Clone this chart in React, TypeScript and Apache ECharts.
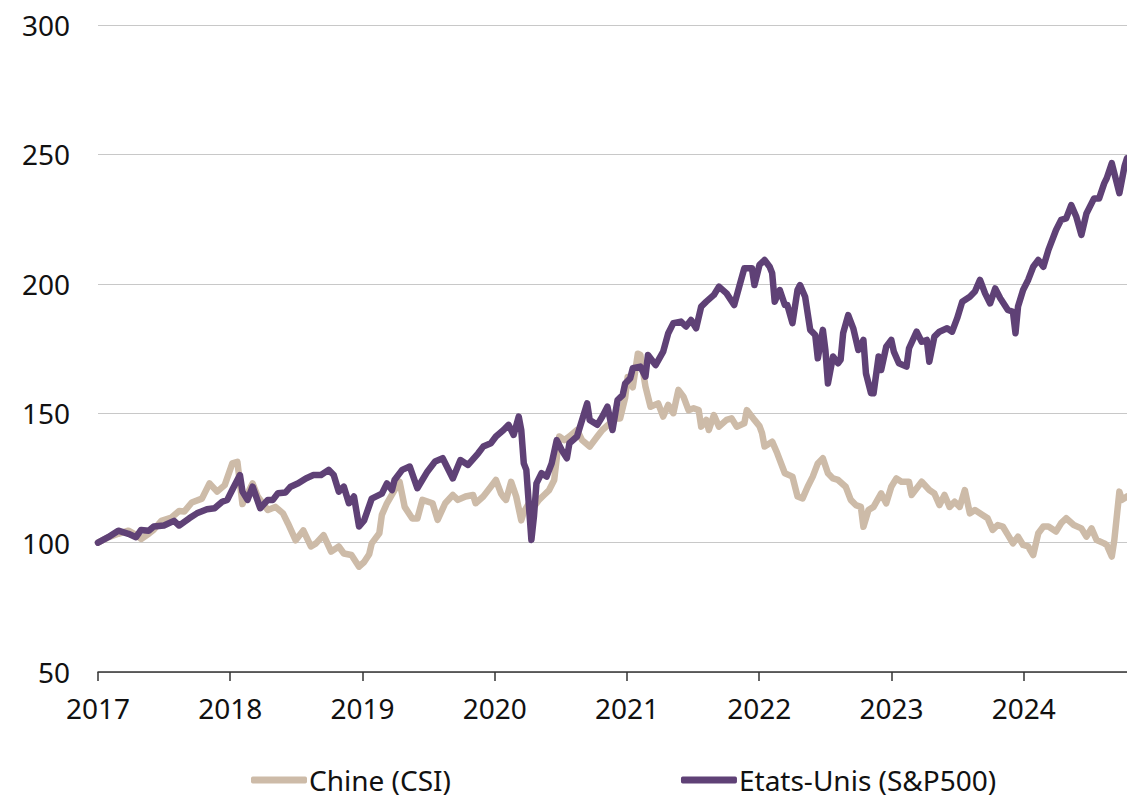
import React, { useEffect, useRef } from "react";
import * as echarts from "echarts";

// Weeks since the first week of January 2017
const usWeeks = [0,4,8,12,15,17,20,22,26,30,32,36,39,43,46,49,51,53,56,57,59,61,64,67,69,71,74,76,79,82,85,88,91,93,95,97,99,101,103,105,108,112,114,116,117,120,123,126,130,133,136,140,143,146,150,152,155,157,160,162,164,166,167,168,169,171,172,173,175,177,179,181,183,185,186,189,191,193,194,197,199,201,203,205,207,208,210,211,214,216,217,220,223,225,227,230,232,234,236,238,240,243,245,248,251,253,255,258,259,261,263,265,266,267,269,271,272,274,276,277,279,281,283,284,286,287,288,290,292,293,294,296,298,300,302,303,305,306,308,309,311,313,314,316,319,320,323,325,327,328,330,332,335,337,339,341,344,346,348,350,352,354,356,359,361,362,363,365,367,369,371,373,375,378,380,382,384,386,388,390,393,395,397,398,400,401,403,405,406];
const usValues = [100,102.1,104.6,103.4,102.1,104.9,104.6,106.2,106.6,108.4,106.6,109.4,111.3,112.9,113.3,115.8,116.5,120.4,126.1,119.7,116.5,121.6,113.3,116.5,116.5,119.1,119.4,121.6,122.9,124.8,126.1,126.1,128.1,126.1,119.7,121.6,115.2,117.8,106.2,108.6,117,118.9,122.9,120.3,124.2,128.1,129.4,121,127.5,131.3,132.6,124.8,131.9,130,134.5,137.1,138.4,141,143.5,145.5,141.6,148.7,143.5,130.6,128.1,101,110,122.9,126.8,125.5,130.6,139.6,135.7,132.6,138.4,141,147.4,153.8,147.4,145.5,148.7,152.5,143.5,155.1,157,161.5,163.5,167.4,168,164.1,172.5,168.6,173.8,180.9,184.8,185.4,183.5,186,182.8,191.2,193.1,195.7,198.9,196.3,191.8,198.9,206,206,199.5,207.3,209.2,206.6,204.1,193.1,197.6,191.8,191.8,184.8,197.6,199.5,195,182.2,180.2,171.2,182.2,174.4,161.5,171.9,169.3,170.6,180.9,187.9,182.8,174.4,178.3,165.4,157.7,157.7,171.9,166.7,175.7,178.3,173.8,169.3,168,175.1,181.5,177.6,178.3,169.9,179.6,181.5,182.8,181.5,186.7,193.1,195,197,201.5,196.3,192.4,198.2,194.4,189.9,189.2,180.9,191.2,197.6,201.5,206.6,209.2,206.6,213.1,220.8,224.7,225.3,230.4,225.9,218.9,227.2,233,233,238.8,240.8,246.6,242.7,235,245.3,248.5];

const chinaWeeks = [0,4,8,12,15,17,20,22,25,29,32,34,37,41,44,47,50,53,55,57,61,63,67,70,73,75,78,81,84,86,89,92,95,97,100,103,105,107,108,111,112,114,117,119,121,124,126,128,132,134,137,140,142,145,148,149,152,154,157,159,160,161,163,165,167,168,170,172,174,176,178,180,182,184,186,189,191,194,197,199,202,204,206,208,209,211,213,214,216,218,221,223,225,227,229,231,233,235,237,238,240,241,243,245,248,250,252,255,256,259,261,262,263,266,268,271,274,276,278,280,282,284,286,288,290,292,295,297,299,301,302,304,306,309,311,313,315,317,320,321,325,328,330,332,334,336,338,340,342,344,346,349,351,353,355,357,359,361,363,365,367,369,371,373,375,378,380,382,385,388,390,392,394,397,398,400,401,403,404,406];
const chinaValues = [100,102,103.4,104.6,103,101.4,103.4,105,108.4,109.7,112.2,112,115.5,117,122.9,119.7,122.2,130.6,131.2,114.9,122.9,117.8,112.6,113.8,111.3,107.3,100.9,104.7,98.5,99.7,102.9,96.5,98.5,95.8,95.2,90.7,92.5,95.5,99.7,103.6,110.7,115.2,120.3,123.5,113.8,109.3,109.3,116.5,115.2,108.8,115.2,118.4,116.5,117.8,118.4,115.2,117.8,120.3,124.2,119,117.5,116.5,123.5,117.8,108.6,111.8,115.2,113.8,116.5,118.4,120.3,124.2,141,139.6,141,143.5,139.6,137.1,141,143.5,146.1,148,148,156,164,160,173,172.5,160.3,152.5,153.8,148.7,153.2,150,159,156.4,151.2,151.9,151.2,144.8,147.4,143.5,149.3,144.8,147.4,148,144.8,146.1,151.2,147.4,145,142.3,137.1,139,134.5,126.8,125.5,117.8,117.1,121.6,125.5,130.6,132.6,126.8,124.8,124.2,121.6,116.5,114.5,113.8,106.1,112.6,113.8,119,115.2,121.6,124.8,123.5,123.5,118.4,123.5,120.3,119,114.5,118.4,113.8,115.8,113.8,120.3,111.3,112.6,110.7,109.4,104.9,106.8,106.2,103,99.7,102.3,99.1,98.5,95.2,103.6,106.2,106.2,104.3,107.5,109.4,106.8,105.5,102.3,105.5,101,99.7,99.1,94.6,101,119.7,116.5,117.8];

const seriesNames = ["Chine (CSI)", "Etats-Unis (S&P500)"];
const seriesColors = ["#cdbba8", "#5f4176"];
const yTicks = [50, 100, 150, 200, 250, 300];
const startYear = 2017;
const weeksPerYear = 52.18;

const FONT = "'Noto Sans', 'Open Sans', sans-serif";

function toPairs(weeks: number[], values: number[]) {
  return weeks.map((w, i) => [startYear + w / weeksPerYear, values[i]]);
}

export default function App() {
  const ref = useRef<HTMLDivElement>(null);

  useEffect(() => {
    document.body.style.margin = "0";
    if (!ref.current) return;
    const chart = echarts.init(ref.current, undefined, { renderer: "svg" });
    const lastWeek = Math.max(usWeeks[usWeeks.length - 1], chinaWeeks[chinaWeeks.length - 1]);
    chart.setOption({
      animation: false,
      backgroundColor: "#ffffff",
      textStyle: { fontFamily: FONT },
      grid: { left: 98, right: 0, top: 25, bottom: 130, containLabel: false },
      xAxis: {
        type: "value",
        min: startYear,
        max: startYear + lastWeek / weeksPerYear,
        interval: 1,
        splitLine: { show: false },
        axisLine: { show: true, lineStyle: { color: "#333333", width: 1.5 } },
        axisTick: { show: true, length: 9, lineStyle: { color: "#333333", width: 1.5 } },
        axisLabel: {
          margin: 22,
          fontSize: 28,
          color: "#111111",
          fontFamily: FONT,
          showMaxLabel: false,
          formatter: (v: number) => (Number.isInteger(Math.round(v * 1000) / 1000) ? String(Math.round(v)) : ""),
        },
      },
      yAxis: {
        type: "value",
        min: yTicks[0],
        max: yTicks[yTicks.length - 1],
        interval: 50,
        axisLine: { show: false },
        axisTick: { show: false },
        splitLine: { show: true, lineStyle: { color: "#c8c8c8", width: 1.2 } },
        axisLabel: { margin: 28, fontSize: 28, color: "#111111", fontFamily: FONT },
      },
      legend: {
        bottom: 3,
        left: 246,
        itemGap: 230,
        itemWidth: 56,
        itemHeight: 7,
        icon: "roundRect",
        textStyle: { fontSize: 28, color: "#111111", fontFamily: FONT, padding: [0, 0, 0, -3] },
        data: seriesNames.map((n, i) => ({ name: n, itemStyle: { color: seriesColors[i] } })),
      },
      series: [
        {
          name: seriesNames[0],
          type: "line",
          data: toPairs(chinaWeeks, chinaValues),
          showSymbol: false,
          symbol: "none",
          color: seriesColors[0],
          lineStyle: { width: 6.5, color: seriesColors[0], cap: "round", join: "round" },
          z: 2,
        },
        {
          name: seriesNames[1],
          type: "line",
          data: toPairs(usWeeks, usValues),
          showSymbol: false,
          symbol: "none",
          color: seriesColors[1],
          lineStyle: { width: 6.5, color: seriesColors[1], cap: "round", join: "round" },
          z: 3,
        },
      ],
    });
    return () => chart.dispose();
  }, []);

  return <div ref={ref} style={{ width: 1127, height: 802 }} />;
}
